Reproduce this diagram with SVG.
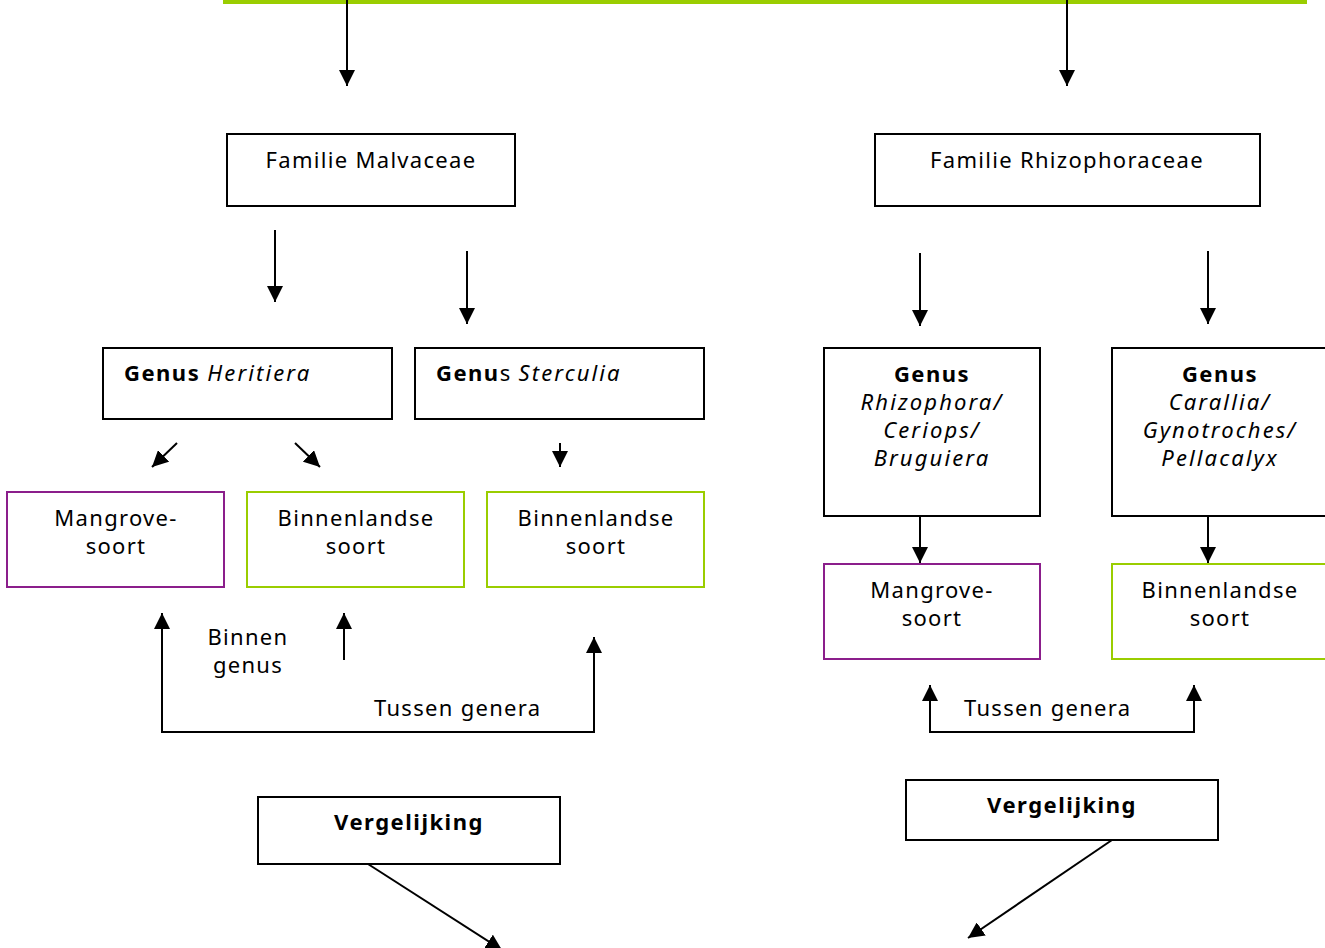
<svg xmlns="http://www.w3.org/2000/svg" width="1325" height="948" viewBox="0 0 1325 948">
<defs>
<marker id="ah" markerUnits="userSpaceOnUse" markerWidth="16" markerHeight="16" viewBox="0 0 16 16" refX="16" refY="8" orient="auto">
<path d="M0,0 L16,8 L0,16 Z" fill="#000"/>
</marker>
<style>
.box{fill:#fff;stroke:#000;stroke-width:2}
.pur{fill:#fff;stroke:#8B1E8B;stroke-width:2}
.grn{fill:#fff;stroke:#9ACD00;stroke-width:2}
.t{font-family:"Noto Sans","DejaVu Sans",sans-serif;font-size:22px;fill:#000;letter-spacing:1.3px}
.c{text-anchor:middle}
.b{font-weight:bold;letter-spacing:1.5px}
.i{font-style:italic;letter-spacing:2.1px}
.ln{fill:none;stroke:#000;stroke-width:2;marker-end:url(#ah)}
</style>
</defs>
<rect x="223" y="0" width="1084" height="4" fill="#9ACD00"/>
<g id="n-malvaceae"><rect class="box" x="227" y="134" width="288" height="72"/><text class="t c" x="371" y="168">Familie Malvaceae</text></g>
<g id="n-rhizophoraceae"><rect class="box" x="875" y="134" width="385" height="72"/><text class="t c" x="1067" y="168">Familie Rhizophoraceae</text></g>
<g id="n-heritiera"><rect class="box" x="103" y="348" width="289" height="71"/><text class="t" x="124" y="381"><tspan class="b">Genus</tspan> <tspan class="i">Heritiera</tspan></text></g>
<g id="n-sterculia"><rect class="box" x="415" y="348" width="289" height="71"/><text class="t" x="436" y="381"><tspan class="b">Genu</tspan>s <tspan class="i">Sterculia</tspan></text></g>
<g id="n-mangrove1"><rect class="pur" x="7" y="492" width="217" height="95"/><text class="t c" x="116" y="526">Mangrove-</text><text class="t c" x="116" y="554">soort</text></g>
<g id="n-binnen1"><rect class="grn" x="247" y="492" width="217" height="95"/><text class="t c" x="356" y="526">Binnenlandse</text><text class="t c" x="356" y="554">soort</text></g>
<g id="n-binnen2"><rect class="grn" x="487" y="492" width="217" height="95"/><text class="t c" x="596" y="526">Binnenlandse</text><text class="t c" x="596" y="554">soort</text></g>
<g id="n-rhizophora"><rect class="box" x="824" y="348" width="216" height="168"/><text class="t c b" x="932" y="382">Genus</text><text class="t c i" x="932" y="410">Rhizophora/</text><text class="t c i" x="932" y="438">Ceriops/</text><text class="t c i" x="932" y="466">Bruguiera</text></g>
<g id="n-carallia"><rect class="box" x="1112" y="348" width="220" height="168"/><text class="t c b" x="1220" y="382">Genus</text><text class="t c i" x="1220" y="410">Carallia/</text><text class="t c i" x="1220" y="438">Gynotroches/</text><text class="t c i" x="1220" y="466">Pellacalyx</text></g>
<g id="n-mangrove2"><rect class="pur" x="824" y="564" width="216" height="95"/><text class="t c" x="932" y="598">Mangrove-</text><text class="t c" x="932" y="626">soort</text></g>
<g id="n-binnen3"><rect class="grn" x="1112" y="564" width="220" height="95"/><text class="t c" x="1220" y="598">Binnenlandse</text><text class="t c" x="1220" y="626">soort</text></g>
<g id="n-verg1"><rect class="box" x="258" y="797" width="302" height="67"/><text class="t c b" x="409" y="830">Vergelijking</text></g>
<g id="n-verg2"><rect class="box" x="906" y="780" width="312" height="60"/><text class="t c b" x="1062" y="813">Vergelijking</text></g>
<g id="labels">
<text class="t c" x="248" y="645">Binnen</text><text class="t c" x="248" y="673">genus</text>
<text class="t" x="374" y="716">Tussen genera</text>
<text class="t" x="964" y="716">Tussen genera</text>
</g>
<g id="connectors">
<line class="ln" x1="347" y1="0" x2="347" y2="86"/>
<line class="ln" x1="1067" y1="0" x2="1067" y2="86"/>
<line class="ln" x1="275" y1="230" x2="275" y2="302"/>
<line class="ln" x1="467" y1="251" x2="467" y2="324"/>
<line class="ln" x1="920" y1="253" x2="920" y2="326"/>
<line class="ln" x1="1208" y1="251" x2="1208" y2="324"/>
<line class="ln" x1="177" y1="443" x2="152" y2="467"/>
<line class="ln" x1="295" y1="443" x2="320" y2="467"/>
<line class="ln" x1="560" y1="443" x2="560" y2="467"/>
<path class="ln" d="M594,732 L162,732 L162,613"/>
<line class="ln" x1="594" y1="733" x2="594" y2="637"/>
<line class="ln" x1="344" y1="660" x2="344" y2="613"/>
<line class="ln" x1="920" y1="516" x2="920" y2="563"/>
<line class="ln" x1="1208" y1="516" x2="1208" y2="563"/>
<path class="ln" d="M1194,732 L930,732 L930,685"/>
<line class="ln" x1="1194" y1="733" x2="1194" y2="685"/>
<line class="ln" x1="368" y1="864" x2="502" y2="950"/>
<line class="ln" x1="1112" y1="840" x2="968" y2="938"/>
</g>
</svg>
